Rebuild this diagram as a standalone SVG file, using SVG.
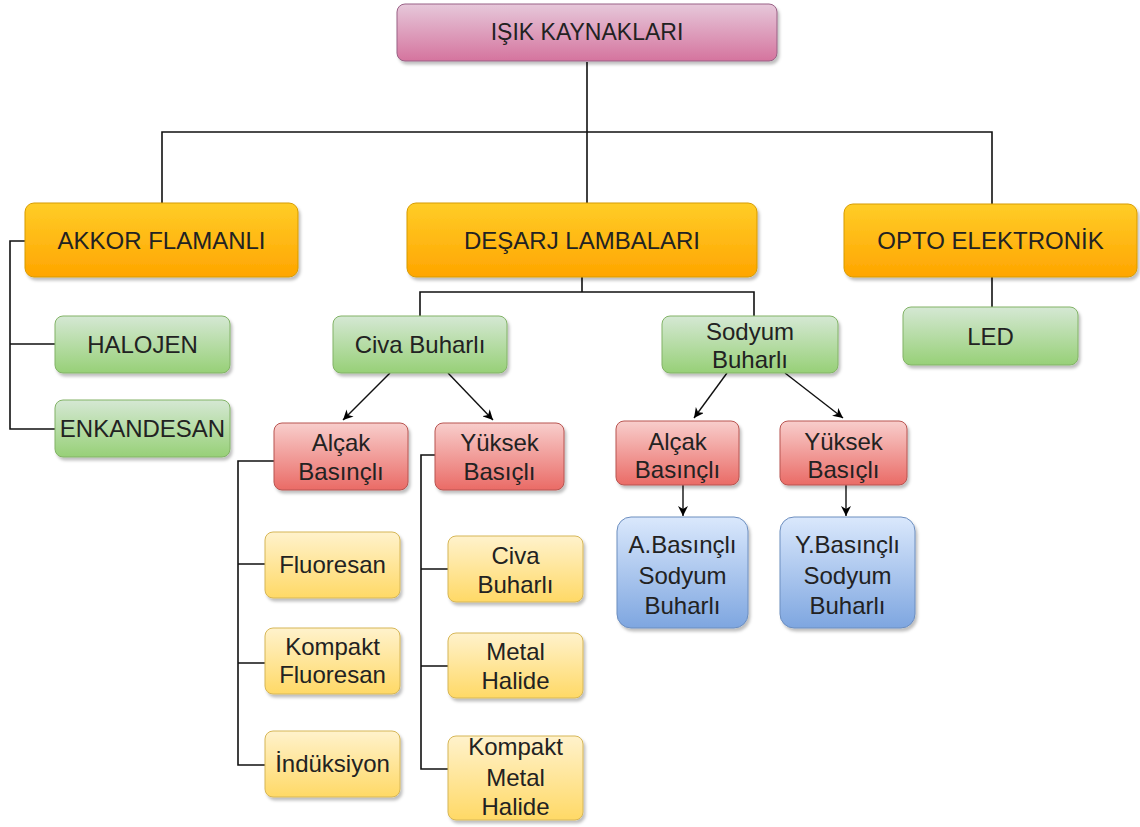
<svg xmlns="http://www.w3.org/2000/svg" width="1140" height="827" viewBox="0 0 1140 827">
<defs>
<linearGradient id="gPink" x1="0" y1="0" x2="0" y2="1"><stop offset="0" stop-color="#e6c8da"/><stop offset="1" stop-color="#d5749e"/></linearGradient>
<linearGradient id="gOrange" x1="0" y1="0" x2="0" y2="1"><stop offset="0" stop-color="#ffcd28"/><stop offset="1" stop-color="#ffa500"/></linearGradient>
<linearGradient id="gGreen" x1="0" y1="0" x2="0" y2="1"><stop offset="0" stop-color="#d5e8d4"/><stop offset="1" stop-color="#97d077"/></linearGradient>
<linearGradient id="gRed" x1="0" y1="0" x2="0" y2="1"><stop offset="0" stop-color="#f8cecc"/><stop offset="1" stop-color="#ea6b66"/></linearGradient>
<linearGradient id="gYellow" x1="0" y1="0" x2="0" y2="1"><stop offset="0" stop-color="#fff2cc"/><stop offset="1" stop-color="#ffd966"/></linearGradient>
<linearGradient id="gBlue" x1="0" y1="0" x2="0" y2="1"><stop offset="0" stop-color="#dae8fc"/><stop offset="1" stop-color="#7ea6e0"/></linearGradient>
<filter id="sh" x="-10%" y="-10%" width="125%" height="140%"><feDropShadow dx="2" dy="3" stdDeviation="1.5" flood-color="#000" flood-opacity="0.25"/></filter>
<marker id="arr" markerWidth="12" markerHeight="10" refX="10" refY="5" orient="auto" markerUnits="userSpaceOnUse"><path d="M0,0 L10,5 L0,10 L3,5 Z" fill="#000"/></marker>
<style>
.n{filter:url(#sh);stroke-width:1}
.pink{fill:url(#gPink);stroke:#996185}
.orange{fill:url(#gOrange);stroke:#d79b00}
.green{fill:url(#gGreen);stroke:#82b366}
.red{fill:url(#gRed);stroke:#b85450}
.yellow{fill:url(#gYellow);stroke:#d6b656}
.blue{fill:url(#gBlue);stroke:#6c8ebf}
text{font-family:"Liberation Sans",Arial,sans-serif;font-size:24px;fill:#222;text-anchor:middle}
.c{fill:none;stroke:#111;stroke-width:1.6}
.ca{fill:none;stroke:#111;stroke-width:1.4;marker-end:url(#arr)}
</style>
</defs>
<rect width="1140" height="827" fill="#fff"/>
<g id="connectors">
<path class="c" d="M587 62 V203"/>
<path class="c" d="M162 203 V132 H992 V204"/>
<path class="c" d="M582 277 V292"/>
<path class="c" d="M420 316 V292 H754 V316"/>
<path class="c" d="M25 241 H10 V429 H55 M10 344 H55"/>
<path class="c" d="M992 277 V307"/>
<path class="ca" d="M390 373 L343 420"/>
<path class="ca" d="M448 373 L493 420"/>
<path class="ca" d="M727 373 L694 418"/>
<path class="ca" d="M785 373 L843 418"/>
<path class="ca" d="M683 485 V516"/>
<path class="ca" d="M846 485 V516"/>
<path class="c" d="M274 461 H238 V765 H265 M238 564 H265 M238 663 H265"/>
<path class="c" d="M435 455 H421 V769 H448 M421 569 H448 M421 666 H448"/>
</g>
<g id="root"><rect class="n pink" x="397" y="4" width="380" height="57" rx="8"/><text x="587" y="40" style="font-size:23px">IŞIK KAYNAKLARI</text></g>
<g id="akkor"><rect class="n orange" x="25" y="203" width="273" height="74" rx="9"/><text x="161.5" y="249">AKKOR FLAMANLI</text></g>
<g id="desarj"><rect class="n orange" x="407" y="203" width="350" height="74" rx="9"/><text x="582" y="249">DEŞARJ LAMBALARI</text></g>
<g id="opto"><rect class="n orange" x="844" y="204" width="293" height="73" rx="9"/><text x="990.5" y="249">OPTO ELEKTRONİK</text></g>
<g id="halojen"><rect class="n green" x="55" y="316" width="175" height="57" rx="8"/><text x="142.5" y="353">HALOJEN</text></g>
<g id="enkandesan"><rect class="n green" x="55" y="400" width="175" height="57" rx="8"/><text x="142.5" y="437">ENKANDESAN</text></g>
<g id="led"><rect class="n green" x="903" y="307" width="175" height="58" rx="8"/><text x="990.5" y="345">LED</text></g>
<g id="civa"><rect class="n green" x="333" y="316" width="174" height="57" rx="8"/><text x="420" y="353">Civa Buharlı</text></g>
<g id="sodyum"><rect class="n green" x="662" y="316" width="176" height="57" rx="8"/><text x="750" y="340">Sodyum</text><text x="750" y="368">Buharlı</text></g>
<g id="civa-alcak"><rect class="n red" x="274" y="423" width="134" height="67" rx="8"/><text x="341" y="451">Alçak</text><text x="341" y="480">Basınçlı</text></g>
<g id="civa-yuksek"><rect class="n red" x="435" y="423" width="129" height="67" rx="8"/><text x="499.5" y="451">Yüksek</text><text x="499.5" y="480">Basıçlı</text></g>
<g id="sod-alcak"><rect class="n red" x="616" y="421" width="123" height="64" rx="8"/><text x="677.5" y="450">Alçak</text><text x="677.5" y="478">Basınçlı</text></g>
<g id="sod-yuksek"><rect class="n red" x="780" y="421" width="127" height="64" rx="8"/><text x="843.5" y="450">Yüksek</text><text x="843.5" y="478">Basıçlı</text></g>
<g id="a-basincli"><rect class="n blue" x="617" y="517" width="131" height="111" rx="14"/><text x="682.5" y="553">A.Basınçlı</text><text x="682.5" y="584">Sodyum</text><text x="682.5" y="614">Buharlı</text></g>
<g id="y-basincli"><rect class="n blue" x="780" y="517" width="135" height="111" rx="14"/><text x="847.5" y="553">Y.Basınçlı</text><text x="847.5" y="584">Sodyum</text><text x="847.5" y="614">Buharlı</text></g>
<g id="fluoresan"><rect class="n yellow" x="265" y="532" width="135" height="66" rx="8"/><text x="332.5" y="573">Fluoresan</text></g>
<g id="kompakt-fluoresan"><rect class="n yellow" x="265" y="628" width="135" height="66" rx="8"/><text x="332.5" y="655">Kompakt</text><text x="332.5" y="683">Fluoresan</text></g>
<g id="induksiyon"><rect class="n yellow" x="265" y="731" width="135" height="66" rx="8"/><text x="332.5" y="772">İndüksiyon</text></g>
<g id="civa-buharli"><rect class="n yellow" x="448" y="536" width="135" height="66" rx="8"/><text x="515.5" y="564">Civa</text><text x="515.5" y="593">Buharlı</text></g>
<g id="metal-halide"><rect class="n yellow" x="448" y="633" width="135" height="65" rx="8"/><text x="515.5" y="660">Metal</text><text x="515.5" y="689">Halide</text></g>
<g id="kompakt-metal-halide"><rect class="n yellow" x="448" y="736" width="135" height="84" rx="8"/><text x="515.5" y="755">Kompakt</text><text x="515.5" y="786">Metal</text><text x="515.5" y="815">Halide</text></g>
</svg>
